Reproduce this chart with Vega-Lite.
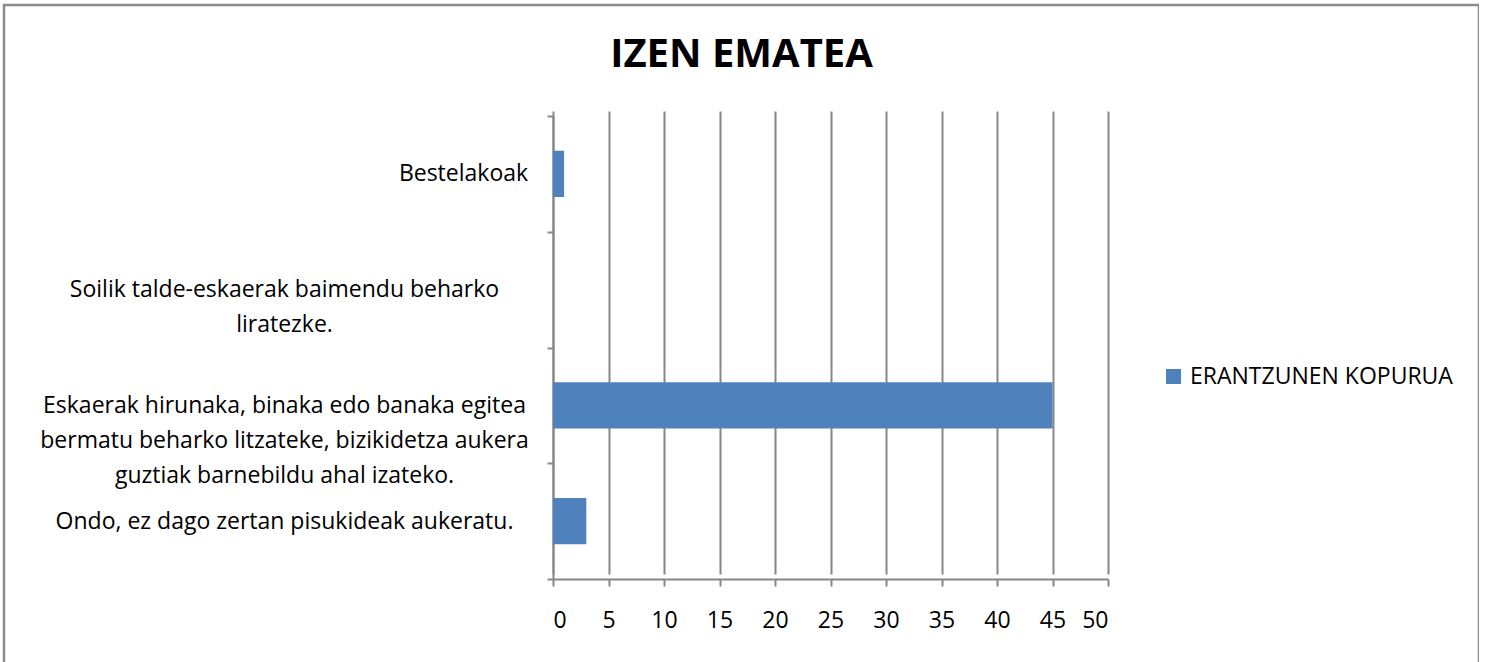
{
  "$schema": "https://vega.github.io/schema/vega-lite/v6.json",
  "autosize": "none",
  "padding": {"left": 4, "top": 5, "right": 0, "bottom": 0},
  "width": 1475,
  "height": 680,
  "background": "white",
  "title": {
    "text": "IZEN EMATEA",
    "font": "Open Sans",
    "fontSize": 40,
    "fontWeight": "bold",
    "color": "#000000",
    "anchor": "middle",
    "frame": "group",
    "baseline": "alphabetic",
    "offset": -68,
    "dy": 45
  },
  "data": {
    "values": [
      {"cat": "Bestelakoak", "v": 1, "s": "ERANTZUNEN KOPURUA"},
      {"cat": "Soilik talde-eskaerak baimendu beharko|liratezke.", "v": 0, "s": "ERANTZUNEN KOPURUA"},
      {"cat": "Eskaerak hirunaka, binaka edo banaka egitea|bermatu beharko litzateke, bizikidetza aukera|guztiak barnebildu ahal izateko.", "v": 45, "s": "ERANTZUNEN KOPURUA"},
      {"cat": "Ondo, ez dago zertan pisukideak aukeratu.", "v": 3, "s": "ERANTZUNEN KOPURUA"}
    ]
  },
  "mark": {"type": "bar", "height": {"band": 0.4}},
  "encoding": {
    "y": {
      "field": "cat",
      "type": "nominal",
      "sort": null,
      "scale": {"range": [111, 574], "paddingInner": 0, "paddingOuter": 0},
      "axis": {
        "title": null,
        "offset": -549,
        "tickBand": "extent",
        "labelExpr": "split(datum.label, '|')",
        "labelFont": "Open Sans",
        "labelFontSize": 23,
        "labelColor": "#000000",
        "labelAlign": "center",
        "labelPadding": {
          "condition": {"test": "datum.value == 'Bestelakoak'", "value": 84},
          "value": 263
        },
        "labelLineHeight": 35,
        "labelLimit": 700,
        "tickSize": 6,
        "tickColor": "#878787",
        "tickWidth": 2,
        "domainColor": "#878787",
        "domainWidth": 2,
        "grid": false
      }
    },
    "x": {
      "field": "v",
      "type": "quantitative",
      "scale": {"domain": [0, 50], "nice": false, "range": [549, 1104]},
      "axis": {
        "title": null,
        "offset": -106,
        "values": [0, 5, 10, 15, 20, 25, 30, 35, 40, 45, 50],
        "labelFont": "Open Sans",
        "labelFontSize": 23,
        "labelColor": "#000000",
        "labelPadding": 23,
        "tickSize": 7,
        "tickColor": "#878787",
        "tickWidth": 2,
        "domainColor": "#878787",
        "domainWidth": 2,
        "grid": true,
        "gridColor": "#878787",
        "gridWidth": 2
      }
    },
    "color": {
      "field": "s",
      "type": "nominal",
      "scale": {"range": ["#4F81BD"]},
      "legend": {
        "title": null,
        "orient": "none",
        "legendX": 1158,
        "legendY": 360,
        "symbolType": "square",
        "symbolSize": 225,
        "symbolStrokeWidth": 0,
        "labelFont": "Open Sans",
        "labelFontSize": 23,
        "labelColor": "#000000",
        "labelOffset": 5,
        "labelLimit": 500,
        "padding": 0
      }
    }
  },
  "config": {
    "view": {"stroke": "#8c8c8c", "strokeWidth": 2.5}
  }
}
